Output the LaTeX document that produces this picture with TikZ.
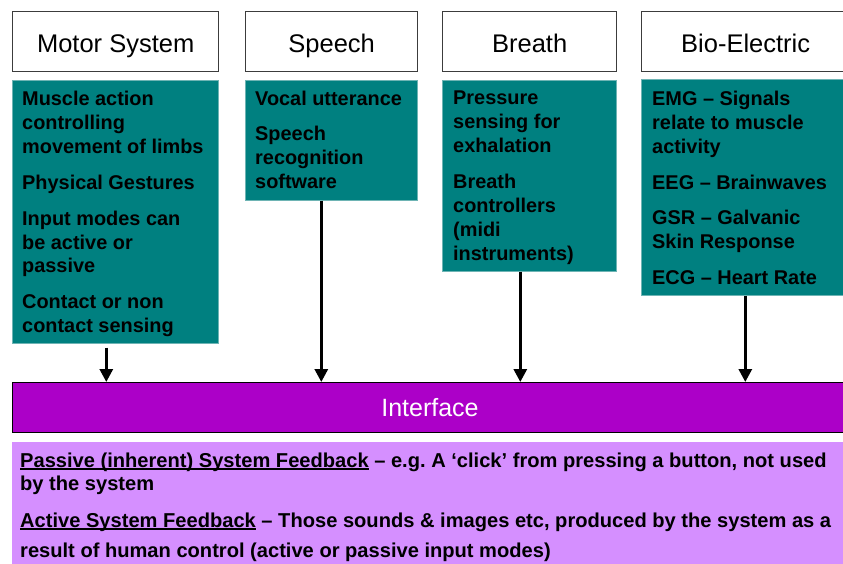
\documentclass[tikz,border=0pt]{standalone}
\usepackage{fontspec}
\setmainfont{Liberation Sans}
\usetikzlibrary{arrows.meta}

\definecolor{panelteal}{RGB}{0,128,128}
\definecolor{panelrim}{RGB}{110,180,180}
\definecolor{ifacepurple}{RGB}{172,0,200}
\definecolor{feedlilac}{RGB}{213,143,255}
\definecolor{hdrline}{RGB}{60,60,60}

% underline sitting just below the baseline
\newcommand\feedul[1]{\setbox0\hbox{#1}\rlap{\rule[-2.3pt]{\wd0}{1.3pt}}\box0\relax}

\tikzset{
  hdrbox/.style={draw=hdrline, line width=1.3pt, fill=white, anchor=north west,
    minimum height=60pt, inner sep=0pt, text height=22pt, text depth=0pt,
    font=\fontsize{25.5pt}{30pt}\selectfont},
  tealbox/.style={fill=panelteal, draw=panelrim, line width=0.6pt, anchor=north west, inner sep=0pt},
  bodytext/.style={anchor=north west, inner sep=0pt, align=left,
    font=\fontsize{19.9pt}{23.7pt}\selectfont\bfseries},
  ifacebar/.style={fill=ifacepurple, draw=black, line width=1.2pt, anchor=north west,
    minimum width=840pt, minimum height=50pt, inner sep=0pt},
  feedbox/.style={fill=feedlilac, anchor=north west, minimum width=845pt,
    minimum height=125pt, inner sep=0pt},
  feedtext/.style={anchor=north west, inner sep=0pt, align=left,
    font=\fontsize{20.1pt}{23.3pt}\selectfont\bfseries\frenchspacing},
  inarrow/.style={line width=3pt, -{Triangle[width=13pt,length=13pt]}}
}

\begin{document}
\begin{tikzpicture}[x=1pt,y=-1pt]
\useasboundingbox (0,0) rectangle (843,563);
\clip (0,0) rectangle (843,563);

% column headers
\node[hdrbox, minimum width=206pt] (motorhdr)  at (12,11)  {Motor System};
\node[hdrbox, minimum width=172pt] (speechhdr) at (245,11) {Speech};
\node[hdrbox, minimum width=174pt] (breathhdr) at (442,11) {Breath};
\node[hdrbox, minimum width=208pt] (biohdr)    at (641,11) {Bio-Electric};

% teal description panels
\node[tealbox, minimum width=206pt, minimum height=263pt] (motorbox)  at (12,80)  {};
\node[tealbox, minimum width=172pt, minimum height=120pt] (speechbox) at (245,80) {};
\node[tealbox, minimum width=174pt, minimum height=191pt] (breathbox) at (442,80) {};
\node[tealbox, minimum width=208pt, minimum height=216pt] (biobox)    at (641,79) {};

\node[bodytext] (motortxt) at (22,91)
  {Muscle action\\controlling\\movement of limbs\\[13pt]Physical Gestures\\[12pt]%
   Input modes can\\be active or\\passive\\[12pt]Contact or non\\contact sensing};
\node[bodytext] (speechtxt) at (255,90.5)
  {Vocal utterance\\[12pt]Speech\\recognition\\software};
\node[bodytext] (breathtxt) at (453,91)
  {Pressure\\sensing for\\exhalation\\[13pt]Breath\\controllers\\(midi\\instruments)};
\node[bodytext] (biotxt) at (652,91)
  {EMG -- Signals\\relate to muscle\\activity\\[13pt]EEG -- Brainwaves\\[11pt]%
   GSR -- Galvanic\\Skin Response\\[13pt]ECG -- Heart Rate};

% interface bar and feedback panel
\node[ifacebar] (iface) at (12,382) {};
\node[text=white, font=\fontsize{25pt}{30pt}\selectfont, inner sep=0pt] (ifacelbl) at (430,408) {Interface};
\node[feedbox] (feed) at (12,442) {};
\node[feedtext] (feedtxt) at (20,452.5)
  {\feedul{Passive (inherent) System Feedback} -- e.g. A ‘click’ from pressing a button, not used\\
   by the system\\[13.5pt]
   \feedul{Active System Feedback} -- Those sounds \& images etc, produced by the system as a\\[6.5pt]
   result of human control (active or passive input modes)};

% inputs feeding the interface
\draw[inarrow, shorten <=4pt] ([xshift=-9pt]motorbox.south)  -- ([xshift=-9pt]motorbox.south |- iface.north);
\draw[inarrow] ([xshift=-10pt]speechbox.south) -- ([xshift=-10pt]speechbox.south |- iface.north);
\draw[inarrow] ([xshift=-9pt]breathbox.south)  -- ([xshift=-9pt]breathbox.south |- iface.north);
\draw[inarrow] (biobox.south) -- (biobox.south |- iface.north);
\end{tikzpicture}
\end{document}
